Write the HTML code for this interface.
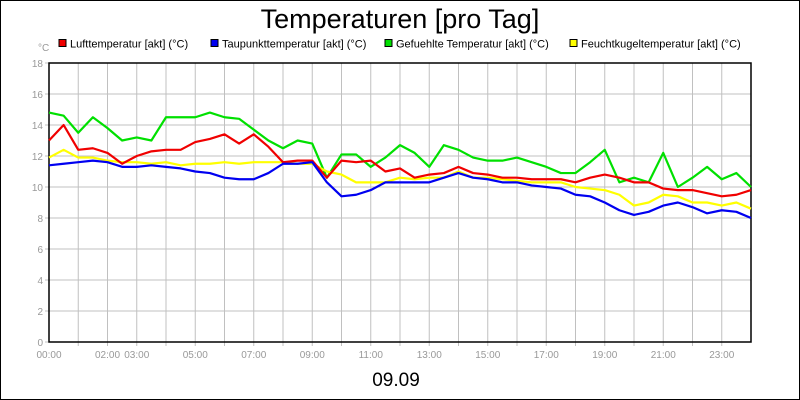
<!DOCTYPE html>
<html><head><meta charset="utf-8"><style>
body{margin:0;background:#fff}
svg{display:block;font-family:"Liberation Sans",sans-serif}
</style></head><body>
<svg id="chart" width="800" height="400" xmlns="http://www.w3.org/2000/svg">
<rect x="0.5" y="0.5" width="799" height="399" fill="#fff" stroke="#000"/>
<text x="400" y="28" text-anchor="middle" font-size="27">Temperaturen [pro Tag]</text>
<text x="38" y="51" font-size="10" fill="#999">°C</text>
<g id="legend" font-size="11"></g>
<g id="grid"></g>
<g id="axes"></g>
<g id="series"></g>
<text x="396" y="386" text-anchor="middle" font-size="19">09.09</text>
</svg>
<script>
const hours = [0,0.5,1,1.5,2,2.5,3,3.5,4,4.5,5,5.5,6,6.5,7,7.5,8,8.5,9,9.5,10,10.5,11,11.5,12,12.5,13,13.5,14,14.5,15,15.5,16,16.5,17,17.5,18,18.5,19,19.5,20,20.5,21,21.5,22,22.5,23,23.5,24];
const lufttemp = [13.0,14.0,12.4,12.5,12.2,11.5,12.0,12.3,12.4,12.4,12.9,13.1,13.4,12.8,13.4,12.6,11.6,11.7,11.7,10.6,11.7,11.6,11.7,11.0,11.2,10.6,10.8,10.9,11.3,10.9,10.8,10.6,10.6,10.5,10.5,10.5,10.3,10.6,10.8,10.6,10.3,10.3,9.9,9.8,9.8,9.6,9.4,9.5,9.8];
const taupunkt = [11.4,11.5,11.6,11.7,11.6,11.3,11.3,11.4,11.3,11.2,11.0,10.9,10.6,10.5,10.5,10.9,11.5,11.5,11.6,10.3,9.4,9.5,9.8,10.3,10.3,10.3,10.3,10.6,10.9,10.6,10.5,10.3,10.3,10.1,10.0,9.9,9.5,9.4,9.0,8.5,8.2,8.4,8.8,9.0,8.7,8.3,8.5,8.4,8.0];
const gefuehlt = [14.8,14.6,13.5,14.5,13.8,13.0,13.2,13.0,14.5,14.5,14.5,14.8,14.5,14.4,13.7,13.0,12.5,13.0,12.8,10.6,12.1,12.1,11.3,11.9,12.7,12.2,11.3,12.7,12.4,11.9,11.7,11.7,11.9,11.6,11.3,10.9,10.9,11.6,12.4,10.3,10.6,10.3,12.2,10.0,10.6,11.3,10.5,10.9,10.0];
const feuchtkugel = [11.9,12.4,11.9,11.9,11.7,11.6,11.6,11.5,11.6,11.4,11.5,11.5,11.6,11.5,11.6,11.6,11.6,11.5,11.5,11.0,10.8,10.3,10.3,10.3,10.6,10.5,10.6,10.6,11.0,10.6,10.6,10.5,10.4,10.3,10.3,10.3,10.0,9.9,9.8,9.5,8.8,9.0,9.5,9.4,9.0,9.0,8.8,9.0,8.6];
const yTicks = [0,2,4,6,8,10,12,14,16,18];
const xTickLabels = ["00:00","02:00","03:00","05:00","07:00","09:00","11:00","13:00","15:00","17:00","19:00","21:00","23:00"];
const xTickHours = [0,2,3,5,7,9,11,13,15,17,19,21,23];
const seriesNames = ["Lufttemperatur [akt] (°C)","Taupunkttemperatur [akt] (°C)","Gefuehlte Temperatur [akt] (°C)","Feuchtkugeltemperatur [akt] (°C)"];

const NS="http://www.w3.org/2000/svg";
const X0=49,X1=751,Y0=342,Y1=63;
const xs=h=>X0+(X1-X0)*h/24;
const ys=v=>Y0-(Y0-Y1)*v/18;
function mk(tag,parent,attrs){const e=document.createElementNS(NS,tag);for(const k in attrs)e.setAttribute(k,attrs[k]);parent.appendChild(e);return e;}
const grid=document.getElementById('grid'),axes=document.getElementById('axes'),ser=document.getElementById('series'),leg=document.getElementById('legend');
for(let h=1;h<24;h++){const l=mk('line',grid,{x1:xs(h),x2:xs(h),y1:Y1,y2:Y0+4,stroke:'#c0c0c0'});

}
yTicks.forEach(v=>{const l=mk('line',grid,{x1:X0-4,x2:X1,y1:ys(v),y2:ys(v),stroke:'#c0c0c0'});


const t=mk('text',axes,{x:X0-6,y:ys(v)+4,'text-anchor':'end','font-size':'10',fill:'#999'});t.textContent=v;

});
xTickLabels.forEach((s,i)=>{const t=mk('text',axes,{x:xs(xTickHours[i]),y:Y0+16,'text-anchor':'middle','font-size':'10',fill:'#999'});t.textContent=s;

});
const fr=mk('rect',axes,{x:X0,y:Y1,width:X1-X0,height:Y0-Y1,fill:'none',stroke:'#000','stroke-width':1.5});


const colors=['#f00000','#0000f0','#00e000','#ffff00'];
const data=[lufttemp,taupunkt,gefuehlt,feuchtkugel];
const order=[2,3,0,1];
order.forEach(i=>{const p=mk('polyline',ser,{points:data[i].map((v,j)=>xs(hours[j])+','+ys(v)).join(' '),fill:'none',stroke:colors[i],'stroke-width':2.2,'stroke-linejoin':'round'});

});
const lx=[59,211,385,570];
seriesNames.forEach((n,i)=>{const r=mk('rect',leg,{x:lx[i],y:39.5,width:7,height:7,fill:colors[i],stroke:'#000'});


const t=mk('text',leg,{x:lx[i]+11,y:47.5});t.textContent=n;

});
</script>
</body></html>
